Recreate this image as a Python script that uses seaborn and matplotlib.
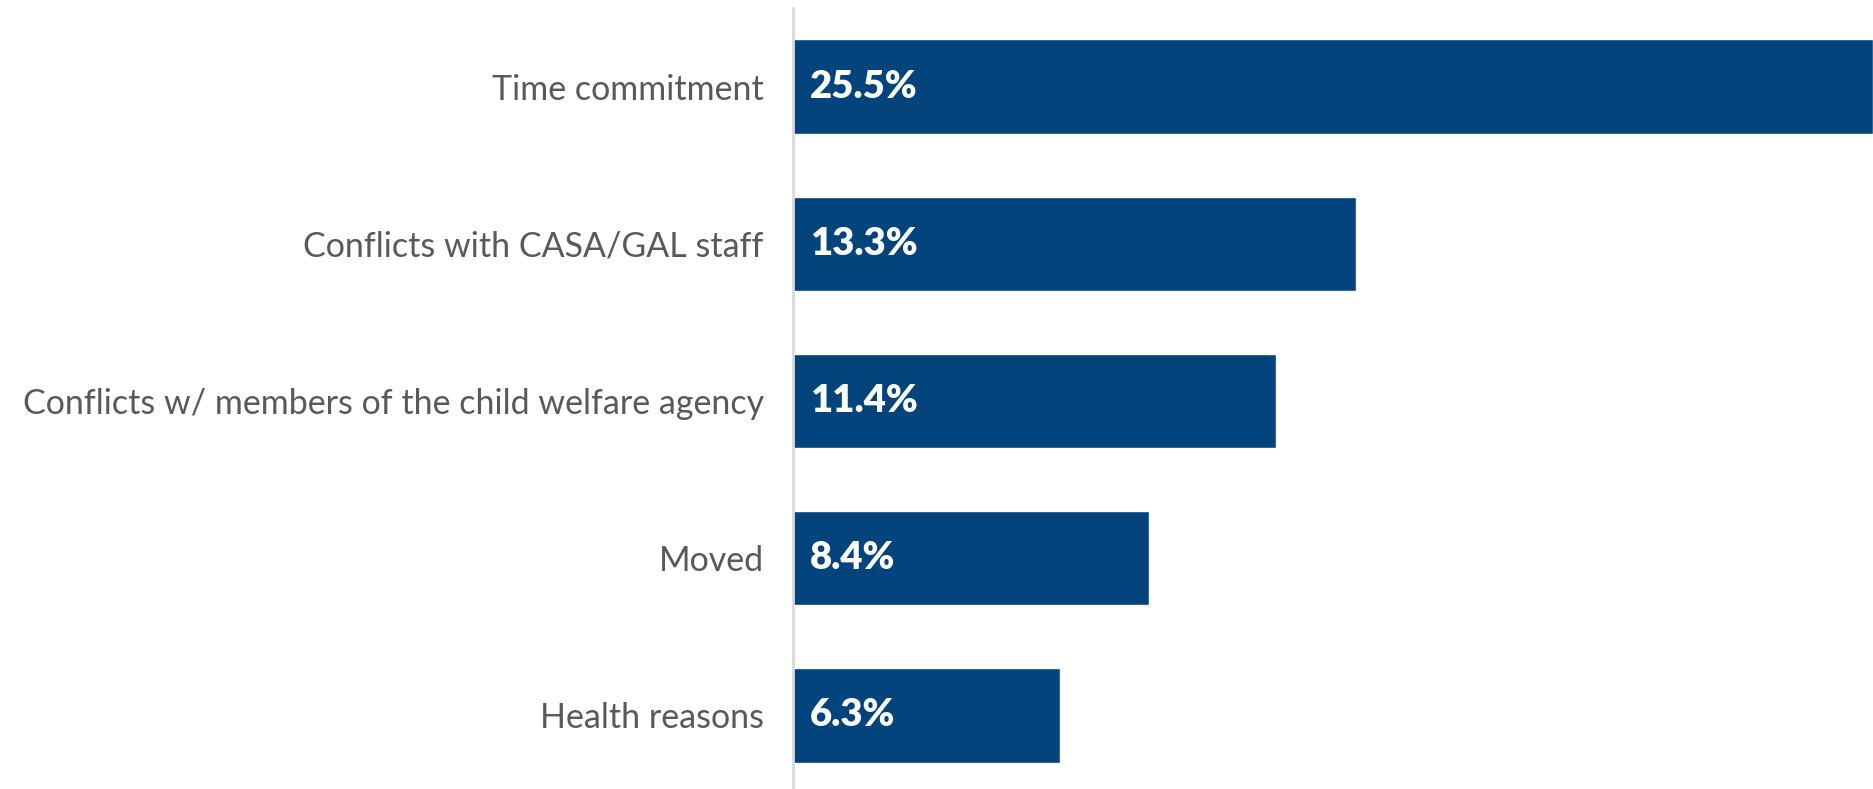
import matplotlib
matplotlib.use("Agg")
import matplotlib.pyplot as plt
import seaborn as sns
import pandas as pd

reasons = [
    "Time commitment",
    "Conflicts with CASA/GAL staff",
    "Conflicts w/ members of the child welfare agency",
    "Moved",
    "Health reasons",
]
shares = [25.5, 13.3, 11.4, 8.4, 6.3]
value_labels = ["25.5%", "13.3%", "11.4%", "8.4%", "6.3%"]

df = pd.DataFrame({"reason": reasons, "share": shares})

sns.set_theme(style="white")
plt.rcParams["font.family"] = ["Lato", "DejaVu Sans"]

fig = plt.figure(figsize=(18.73, 7.89), dpi=100)
ax = fig.add_axes([793 / 1873, -5 / 789, 1 - 793 / 1873, 786 / 789])

sns.barplot(data=df, x="share", y="reason", orient="h", color="#02447B",
            width=0.6, saturation=1, ax=ax)

ax.set_xlim(0, 25.5)
ax.set_ylim(4.5, -0.5)
ax.set_xlabel("")
ax.set_ylabel("")
ax.set_xticks([])
ax.tick_params(axis="y", length=0, pad=21, labelsize=24.5, labelcolor="#595959")

for side in ["top", "right", "bottom"]:
    ax.spines[side].set_visible(False)
ax.spines["left"].set_color("#D9D9D9")
ax.spines["left"].set_linewidth(2)

for i, lab in enumerate(value_labels):
    ax.annotate(lab, xy=(0, i), xytext=(12, 0), textcoords="offset points",
                va="center", ha="left", color="white", fontsize=27.5,
                fontweight="heavy")

fig.savefig("out.png", dpi=100)
